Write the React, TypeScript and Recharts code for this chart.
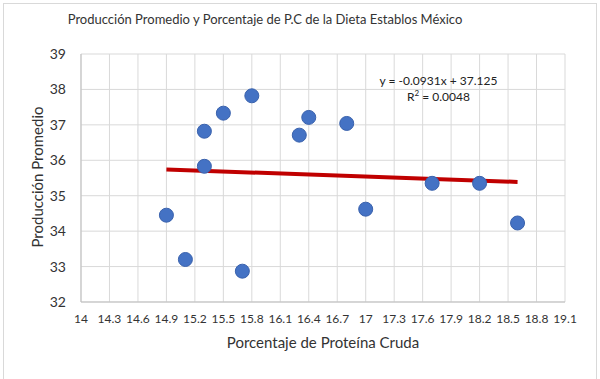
import {
  Scatter,
  XAxis,
  YAxis,
  CartesianGrid,
  Line,
  ComposedChart,
} from 'recharts';

// ── Data ───────────────────────────────────────────

const proteina = [14.9, 15.1, 15.3, 15.3, 15.5, 15.7, 15.8, 16.3, 16.4, 16.8, 17.0, 17.7, 18.2, 18.6];
const produccion = [34.45, 33.2, 36.82, 35.83, 37.33, 32.87, 37.82, 36.71, 37.21, 37.04, 34.62, 35.35, 35.35, 34.23];

// trend line endpoints (y = -0.0931x + 37.125)
const trendX = [14.9, 18.6];
const trendY = [35.74, 35.39];

const xTicks = [14, 14.3, 14.6, 14.9, 15.2, 15.5, 15.8, 16.1, 16.4, 16.7, 17, 17.3, 17.6, 17.9, 18.2, 18.5, 18.8, 19.1];
const yTicks = [32, 33, 34, 35, 36, 37, 38, 39];

const points = proteina.map((x, i) => ({ x, y: produccion[i] }));
const trend = trendX.map((x, i) => ({ x, t: trendY[i] }));

const FONT = 'Lato, "Open Sans", sans-serif';
const textColor = '#333';

// ── Component ──────────────────────────────────────

export default function App() {
  return (
    <div
      style={{
        position: 'absolute',
        left: 0,
        top: 0,
        width: 600,
        height: 379,
        background: '#fff',
        fontFamily: FONT,
        color: textColor,
      }}
    >
      <div
        style={{
          position: 'absolute',
          left: 3,
          top: 3,
          width: 594,
          height: 380,
          border: '1px solid #d9d9d9',
          boxSizing: 'border-box',
        }}
      />
      <ComposedChart
        width={600}
        height={379}
        margin={{ top: 54, right: 35, bottom: 0, left: 0 }}
      >
        <CartesianGrid stroke="#d9d9d9" strokeWidth={1} />
        <XAxis
          type="number"
          dataKey="x"
          domain={[14, 19.1]}
          ticks={xTicks}
          interval={0}
          height={77}
          tickLine={false}
          tickMargin={6}
          axisLine={{ stroke: '#bfbfbf' }}
          tick={{ fontSize: 12, fill: textColor, fontFamily: FONT }}
          allowDataOverflow
        />
        <YAxis
          type="number"
          domain={[32, 39]}
          ticks={yTicks}
          interval={0}
          width={81}
          tickLine={false}
          tickMargin={9}
          axisLine={{ stroke: '#bfbfbf' }}
          tick={{ fontSize: 14, fill: textColor, fontFamily: FONT }}
        />
        <Line
          data={trend}
          dataKey="t"
          type="linear"
          stroke="#c00000"
          strokeWidth={4}
          dot={false}
          activeDot={false}
          isAnimationActive={false}
        />
        <Scatter
          data={points}
          dataKey="y"
          fill="#4472c4"
          shape={(p: any) => (
            <circle cx={p.cx} cy={p.cy} r={7} fill="#4472c4" stroke="#3a62ad" strokeWidth={1} />
          )}
          isAnimationActive={false}
        />
      </ComposedChart>
      <div
        style={{
          position: 'absolute',
          left: 0,
          width: 530,
          top: 11,
          textAlign: 'center',
          fontSize: 13,
          whiteSpace: 'nowrap',
        }}
      >
        Producción Promedio y Porcentaje de P.C de la Dieta Establos México
      </div>
      <div
        style={{
          position: 'absolute',
          left: 37 - 100,
          top: 177 - 10,
          width: 200,
          height: 20,
          lineHeight: '20px',
          textAlign: 'center',
          fontSize: 15,
          transform: 'rotate(-90deg)',
          whiteSpace: 'nowrap',
        }}
      >
        Producción Promedio
      </div>
      <div
        style={{
          position: 'absolute',
          left: 223,
          width: 200,
          top: 333,
          textAlign: 'center',
          fontSize: 15,
          whiteSpace: 'nowrap',
        }}
      >
        Porcentaje de Proteína Cruda
      </div>
      <div
        style={{
          position: 'absolute',
          left: 370,
          width: 137,
          top: 73,
          textAlign: 'center',
          fontSize: 12,
          lineHeight: '16px',
          whiteSpace: 'nowrap',
          color: '#222',
        }}
      >
        y = -0.0931x + 37.125
        <br />
        R<sup style={{ fontSize: 8, lineHeight: 0 }}>2</sup> = 0.0048
      </div>
    </div>
  );
}
